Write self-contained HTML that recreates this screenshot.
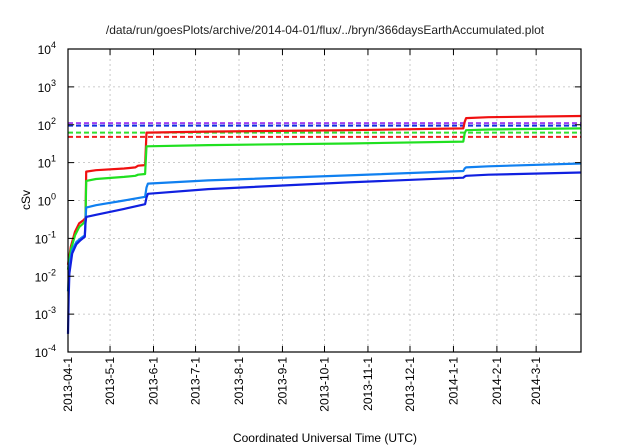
<!DOCTYPE html>
<html><head><meta charset="utf-8"><style>
body{margin:0;background:#fff;}
svg{display:block;font-family:"Liberation Sans",sans-serif;}
</style></head><body>
<svg width="640" height="448" viewBox="0 0 640 448">
<rect width="640" height="448" fill="#fff"/>
<text x="325" y="34" font-size="12" text-anchor="middle" fill="#222">/data/run/goesPlots/archive/2014-04-01/flux/../bryn/366daysEarthAccumulated.plot</text>
<g id="grid"></g>
<g id="series"></g>
<rect x="68" y="49" width="513" height="303" fill="none" stroke="#000" stroke-width="1.2"/>
<g id="axes"></g>
<text transform="translate(30,200) rotate(-90)" font-size="12" text-anchor="middle">cSv</text>
<text x="325" y="442" font-size="12" text-anchor="middle">Coordinated Universal Time (UTC)</text>
</svg>
<script>
const xTickDays=[0,30,61,91,122,153,183,214,244,275,306,334];
const xTickLabels=["2013-04-1","2013-5-1","2013-6-1","2013-7-1","2013-8-1","2013-9-1","2013-10-1","2013-11-1","2013-12-1","2014-1-1","2014-2-1","2014-3-1"];
const yTickExps=[-4,-3,-2,-1,0,1,2,3,4];
const thresholdValues=[110,95,62,48];
const thresholdColors=["#a040f0","#1030e0","#30e030","#f02020"];
const redDays=[0,2,5,8,11,12.5,13,20,40,48,50,55,56,100,200,282,283,284,300,366];
const redVals=[0.02,0.06,0.15,0.25,0.3,0.35,5.8,6.3,7,7.5,8.3,8.6,62,66,72,80,120,150,158,170];
const greenDays=[0,2,5,8,11,12.5,13,20,40,48,50,55,56,100,200,282,283,284,300,366];
const greenVals=[0.015,0.05,0.12,0.2,0.25,0.3,3.3,3.7,4.2,4.5,4.8,5,27,29,32,36,60,72,75,80];
const lblueDays=[0,1,3,6,9,12,12.5,13,20,40,55,56,57,100,200,282,283,284,300,366];
const lblueVals=[0.004,0.02,0.05,0.08,0.1,0.12,0.3,0.65,0.75,1.0,1.25,2.2,2.8,3.4,4.6,6,7,7.5,8,9.5];
const dblueDays=[0,0.5,1,3,6,9,12,12.5,13,20,40,55,56,57,100,200,282,283,284,300,366];
const dblueVals=[0.0003,0.003,0.012,0.04,0.07,0.09,0.11,0.25,0.37,0.42,0.6,0.8,1.2,1.5,2,3,4,4.3,4.5,4.8,5.5];
const L=68,R=581,T=49,B=352,ND=366;
const xs=d=>L+d*(R-L)/ND;
const ys=v=>B-(Math.log10(v)+4)*(B-T)/8;
const NS="http://www.w3.org/2000/svg";
function mk(tag,attrs,parent){const e=document.createElementNS(NS,tag);for(const k in attrs)e.setAttribute(k,attrs[k]);parent.appendChild(e);return e;}
const grid=document.getElementById('grid'),axes=document.getElementById('axes'),ser=document.getElementById('series');
xTickDays.forEach((d,i)=>{
 const x=xs(d);
 if(i>0){const g=mk('line',{x1:x,x2:x,y1:T,y2:B,stroke:'#bbb','stroke-dasharray':'2,3','stroke-width':0.8},grid);
 
 }
 const t=mk('line',{x1:x,x2:x,y1:B,y2:B-6,stroke:'#000'},axes);
 
 
 const t2=mk('line',{x1:x,x2:x,y1:T,y2:T+6,stroke:'#000'},axes);
 
 
 const lb=mk('text',{transform:`translate(${x+4},357) rotate(-90)`,'font-size':12,'text-anchor':'end'},axes);
 lb.textContent=xTickLabels[i];
 
 
});
yTickExps.forEach(e=>{
 const y=ys(Math.pow(10,e));
 if(e>-4&&e<4){const g=mk('line',{x1:L,x2:R,y1:y,y2:y,stroke:'#bbb','stroke-dasharray':'2,3','stroke-width':0.8},grid);
 
 }
 const t=mk('line',{x1:L,x2:L+6,y1:y,y2:y,stroke:'#000'},axes);
 
 
 const t2=mk('line',{x1:R,x2:R-6,y1:y,y2:y,stroke:'#000'},axes);
 
 
 const lb=mk('text',{x:56,y:y+5,'font-size':12,'text-anchor':'end'},axes);
 lb.innerHTML=`10<tspan dy="-6" font-size="9">${e}</tspan>`;
 
 
});
thresholdValues.forEach((v,i)=>{
 const y=ys(v);
 const l=mk('line',{x1:L,x2:R,y1:y,y2:y,stroke:thresholdColors[i],'stroke-width':2,'stroke-dasharray':'5,3'},ser);
 
 
});
[[redDays,redVals,'#f01010','red-series'],[greenDays,greenVals,'#20e020','green-series'],[lblueDays,lblueVals,'#1080f0','light-blue-series'],[dblueDays,dblueVals,'#1020e0','dark-blue-series']].forEach(([d,v,c,n])=>{
 const pts=d.map((dd,i)=>xs(dd).toFixed(1)+','+ys(v[i]).toFixed(1)).join(' ');
 const p=mk('polyline',{points:pts,fill:'none',stroke:c,'stroke-width':2.2,'stroke-linejoin':'round'},ser);
 
 
});
</script>
</body></html>
